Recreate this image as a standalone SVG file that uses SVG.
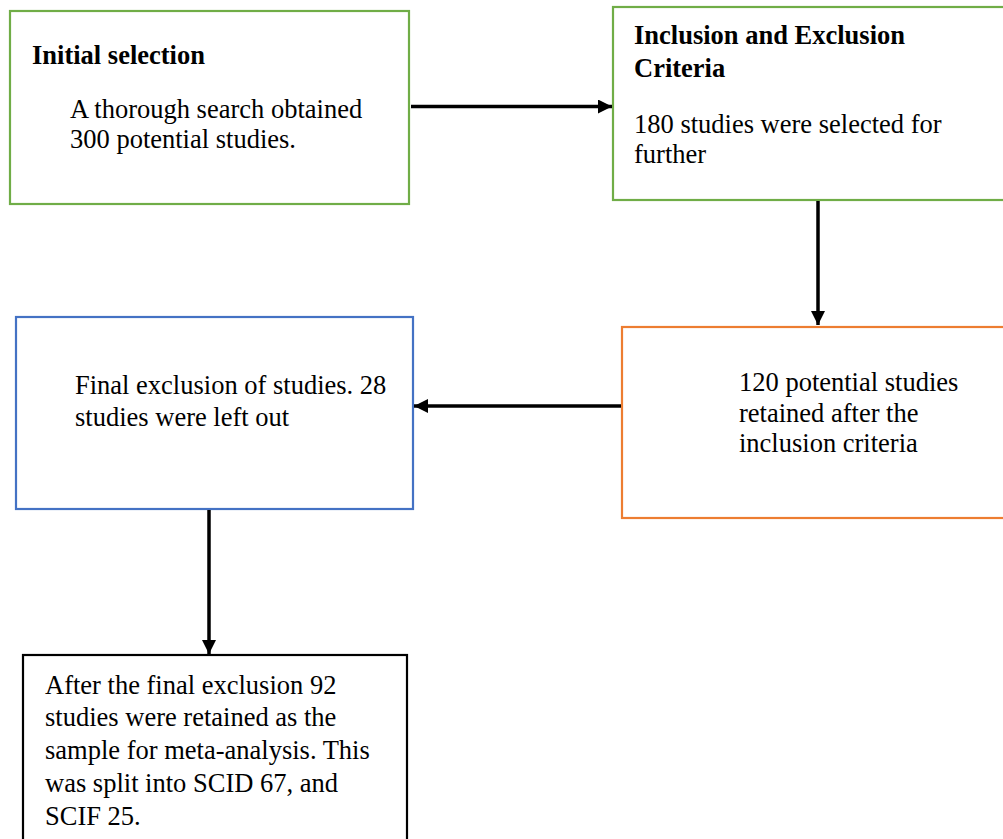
<svg xmlns="http://www.w3.org/2000/svg" width="1003" height="839" viewBox="0 0 1003 839">
  <defs>
    <marker id="arrow" viewBox="0 0 10 10" refX="10" refY="5" markerWidth="4.2" markerHeight="4" markerUnits="strokeWidth" orient="auto">
      <path d="M0,0 L10,5 L0,10 Z" fill="#000"/>
    </marker>
    <style>
      .box { fill: #fff; stroke-width: 2.2; }
      .green { stroke: #70AD47; }
      .orange { stroke: #ED7D31; }
      .blue { stroke: #4472C4; }
      .black { stroke: #000; }
      .t { font-family: "Liberation Serif", "Times New Roman", serif; font-size: 26.5px; fill: #000; }
      .b { font-weight: bold; }
      .conn { stroke: #000; stroke-width: 3.5; fill: none; marker-end: url(#arrow); }
    </style>
  </defs>
  <rect width="1003" height="839" fill="#fff"/>

  <g id="initial-selection">
    <rect class="box green" x="10" y="11" width="399" height="193"/>
    <text class="t b" x="32" y="64">Initial selection</text>
    <text class="t" x="70" y="118">A thorough search obtained</text>
    <text class="t" x="70" y="148">300 potential studies.</text>
  </g>

  <g id="inclusion-exclusion">
    <rect class="box green" x="613" y="7" width="420" height="193"/>
    <text class="t b" x="634" y="44">Inclusion and Exclusion</text>
    <text class="t b" x="634" y="77">Criteria</text>
    <text class="t" x="634" y="133">180 studies were selected for</text>
    <text class="t" x="634" y="163">further</text>
  </g>

  <g id="retained-after-inclusion">
    <rect class="box orange" x="622" y="327" width="420" height="191"/>
    <text class="t" x="739" y="391">120 potential studies</text>
    <text class="t" x="739" y="422">retained after the</text>
    <text class="t" x="739" y="452">inclusion criteria</text>
  </g>

  <g id="final-exclusion">
    <rect class="box blue" x="16" y="317" width="397" height="192"/>
    <text class="t" x="75" y="394">Final exclusion of studies. 28</text>
    <text class="t" x="75" y="426">studies were left out</text>
  </g>

  <g id="final-sample">
    <rect class="box black" x="23" y="655" width="384" height="220"/>
    <text class="t" x="45" y="694">After the final exclusion 92</text>
    <text class="t" x="45" y="726">studies were retained as the</text>
    <text class="t" x="45" y="759">sample for meta-analysis. This</text>
    <text class="t" x="45" y="792">was split into SCID 67, and</text>
    <text class="t" x="45" y="825">SCIF 25.</text>
  </g>

  <g id="connectors">
    <line class="conn" x1="411" y1="106.5" x2="612" y2="106.5"/>
    <line class="conn" x1="818" y1="201" x2="818" y2="325"/>
    <line class="conn" x1="621" y1="406" x2="414" y2="406"/>
    <line class="conn" x1="209" y1="510" x2="209" y2="654"/>
  </g>
</svg>
